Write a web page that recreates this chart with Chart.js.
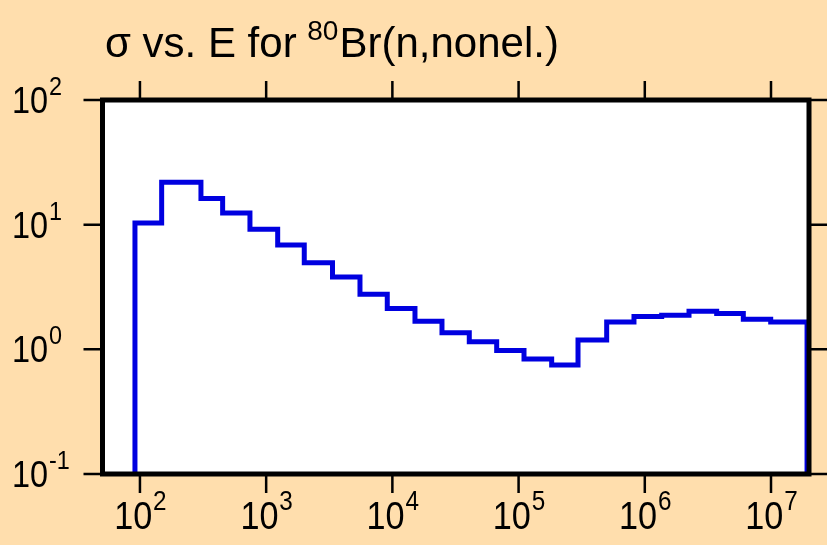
<!DOCTYPE html>
<html>
<head>
<meta charset="utf-8">
<script src="https://cdn.jsdelivr.net/npm/chart.js@4.4.1/dist/chart.umd.min.js"></script>
<style>
  html, body { margin: 0; padding: 0; background: #ffdead; }
  canvas { display: block; }
</style>
</head>
<body>
<canvas id="myChart" width="827" height="545"></canvas>
<script>
// bin edges (eV) and cross sections (b)
var edges = [91.3, 148.6, 304.3, 452, 744, 1234, 2004, 3353, 5538, 9111, 15105, 24720,
             40680, 67060, 110400, 182900, 295700, 498900, 821000, 1.361e6, 2.24e6,
             3.712e6, 6.034e6, 9.945e6, 1.93e7];
var sigma = [10.3, 21.9, 16.2, 12.4, 9.19, 6.87, 4.96, 3.80, 2.77, 2.13, 1.68, 1.36,
             1.15, 0.977, 0.838, 0.750, 1.19, 1.66, 1.83, 1.88, 2.02, 1.94, 1.74, 1.66];
var xTicks = [1e2, 1e3, 1e4, 1e5, 1e6, 1e7];
var xExps = ['2', '3', '4', '5', '6', '7'];
var yTicks = [0.1, 1, 10, 100];
var yExps = ['-1', '0', '1', '2'];
var floorVal = 0.1;

// histogram as stepped line
var pts = [{x: edges[0], y: floorVal}];
for (var i = 0; i < sigma.length; i++) {
  pts.push({x: edges[i], y: sigma[i]});
}
pts.push({x: edges[edges.length - 1], y: sigma[sigma.length - 1]});
pts.push({x: edges[edges.length - 1], y: floorVal});

var FONT = '"Liberation Sans", Arial, sans-serif';
var SQ = 0.9; // labels are a bit narrow

function drawPow(ctx, x, y, exp, size, supSize, rise, align) {
  ctx.font = size + 'px ' + FONT;
  var wb = ctx.measureText('10').width * SQ;
  ctx.font = supSize + 'px ' + FONT;
  var we = ctx.measureText(exp).width * SQ;
  var x0 = align === 'center' ? x - (wb + we) / 2 : x;
  ctx.save();
  ctx.translate(x0, y);
  ctx.scale(SQ, 1);
  ctx.textAlign = 'left';
  ctx.textBaseline = 'alphabetic';
  ctx.font = size + 'px ' + FONT;
  ctx.fillText('10', 0, 0);
  ctx.font = supSize + 'px ' + FONT;
  ctx.fillText(exp, wb / SQ + 1, -rise);
  ctx.restore();
}

var framePlugin = {
  id: 'frame',
  beforeDatasetsDraw: function(chart) {
    var a = chart.chartArea, ctx = chart.ctx;
    ctx.save();
    ctx.fillStyle = '#ffffff';
    ctx.fillRect(a.left, a.top, a.right - a.left, a.bottom - a.top);
    ctx.restore();
  },
  afterDatasetsDraw: function(chart) {
    var a = chart.chartArea, ctx = chart.ctx;
    var xs = chart.scales.x, ys = chart.scales.y;
    ctx.save();
    ctx.strokeStyle = '#000';
    ctx.lineWidth = 2.5;
    var tl = 19;
    ctx.beginPath();
    xTicks.forEach(function(v) {
      var px = xs.getPixelForValue(v);
      ctx.moveTo(px, a.bottom); ctx.lineTo(px, a.bottom + tl);
      ctx.moveTo(px, a.top); ctx.lineTo(px, a.top - tl);
    });
    yTicks.forEach(function(v) {
      var py = ys.getPixelForValue(v);
      ctx.moveTo(a.left, py); ctx.lineTo(a.left - tl, py);
      ctx.moveTo(a.right, py); ctx.lineTo(a.right + tl, py);
    });
    ctx.stroke();
    ctx.lineWidth = 5;
    ctx.strokeRect(a.left, a.top, a.right - a.left, a.bottom - a.top);

    ctx.fillStyle = '#000';
    xTicks.forEach(function(v, k) {
      drawPow(ctx, xs.getPixelForValue(v), 529, xExps[k], 38, 27, 19, 'center');
    });
    yTicks.forEach(function(v, k) {
      drawPow(ctx, 12, ys.getPixelForValue(v) + 13, yExps[k], 36, 26, 18, 'left');
    });

    // title with superscript mass number
    ctx.textAlign = 'left';
    ctx.textBaseline = 'alphabetic';
    ctx.font = '42px ' + FONT;
    var t1 = '\u03c3 vs. E for ';
    ctx.fillText(t1, 105, 57);
    var w1 = ctx.measureText(t1).width;
    ctx.font = '28px ' + FONT;
    ctx.fillText('80', 105 + w1 - 1, 40);
    var w2 = ctx.measureText('80').width;
    ctx.font = '42px ' + FONT;
    ctx.fillText('Br(n,nonel.)', 105 + w1 + w2, 57);
    ctx.restore();
  }
};

var ctx = document.getElementById('myChart').getContext('2d');
var chart = new Chart(ctx, {
  type: 'line',
  data: {
    datasets: [{
      label: 'nonel',
      data: pts,
      borderColor: '#0000e0',
      borderWidth: 5,
      pointRadius: 0,
      fill: false,
      stepped: 'before',
      tension: 0
    }]
  },
  options: {
    responsive: false,
    animation: false,
    layout: { padding: { left: 102.5, right: 18, top: 100, bottom: 71 } },
    plugins: { legend: { display: false }, title: { display: false }, tooltip: { enabled: false } },
    scales: {
      x: { type: 'logarithmic', min: 50.5, max: 2e7, display: false },
      y: { type: 'logarithmic', min: 0.1, max: 100, display: false }
    }
  },
  plugins: [framePlugin]
});
</script>
</body>
</html>
